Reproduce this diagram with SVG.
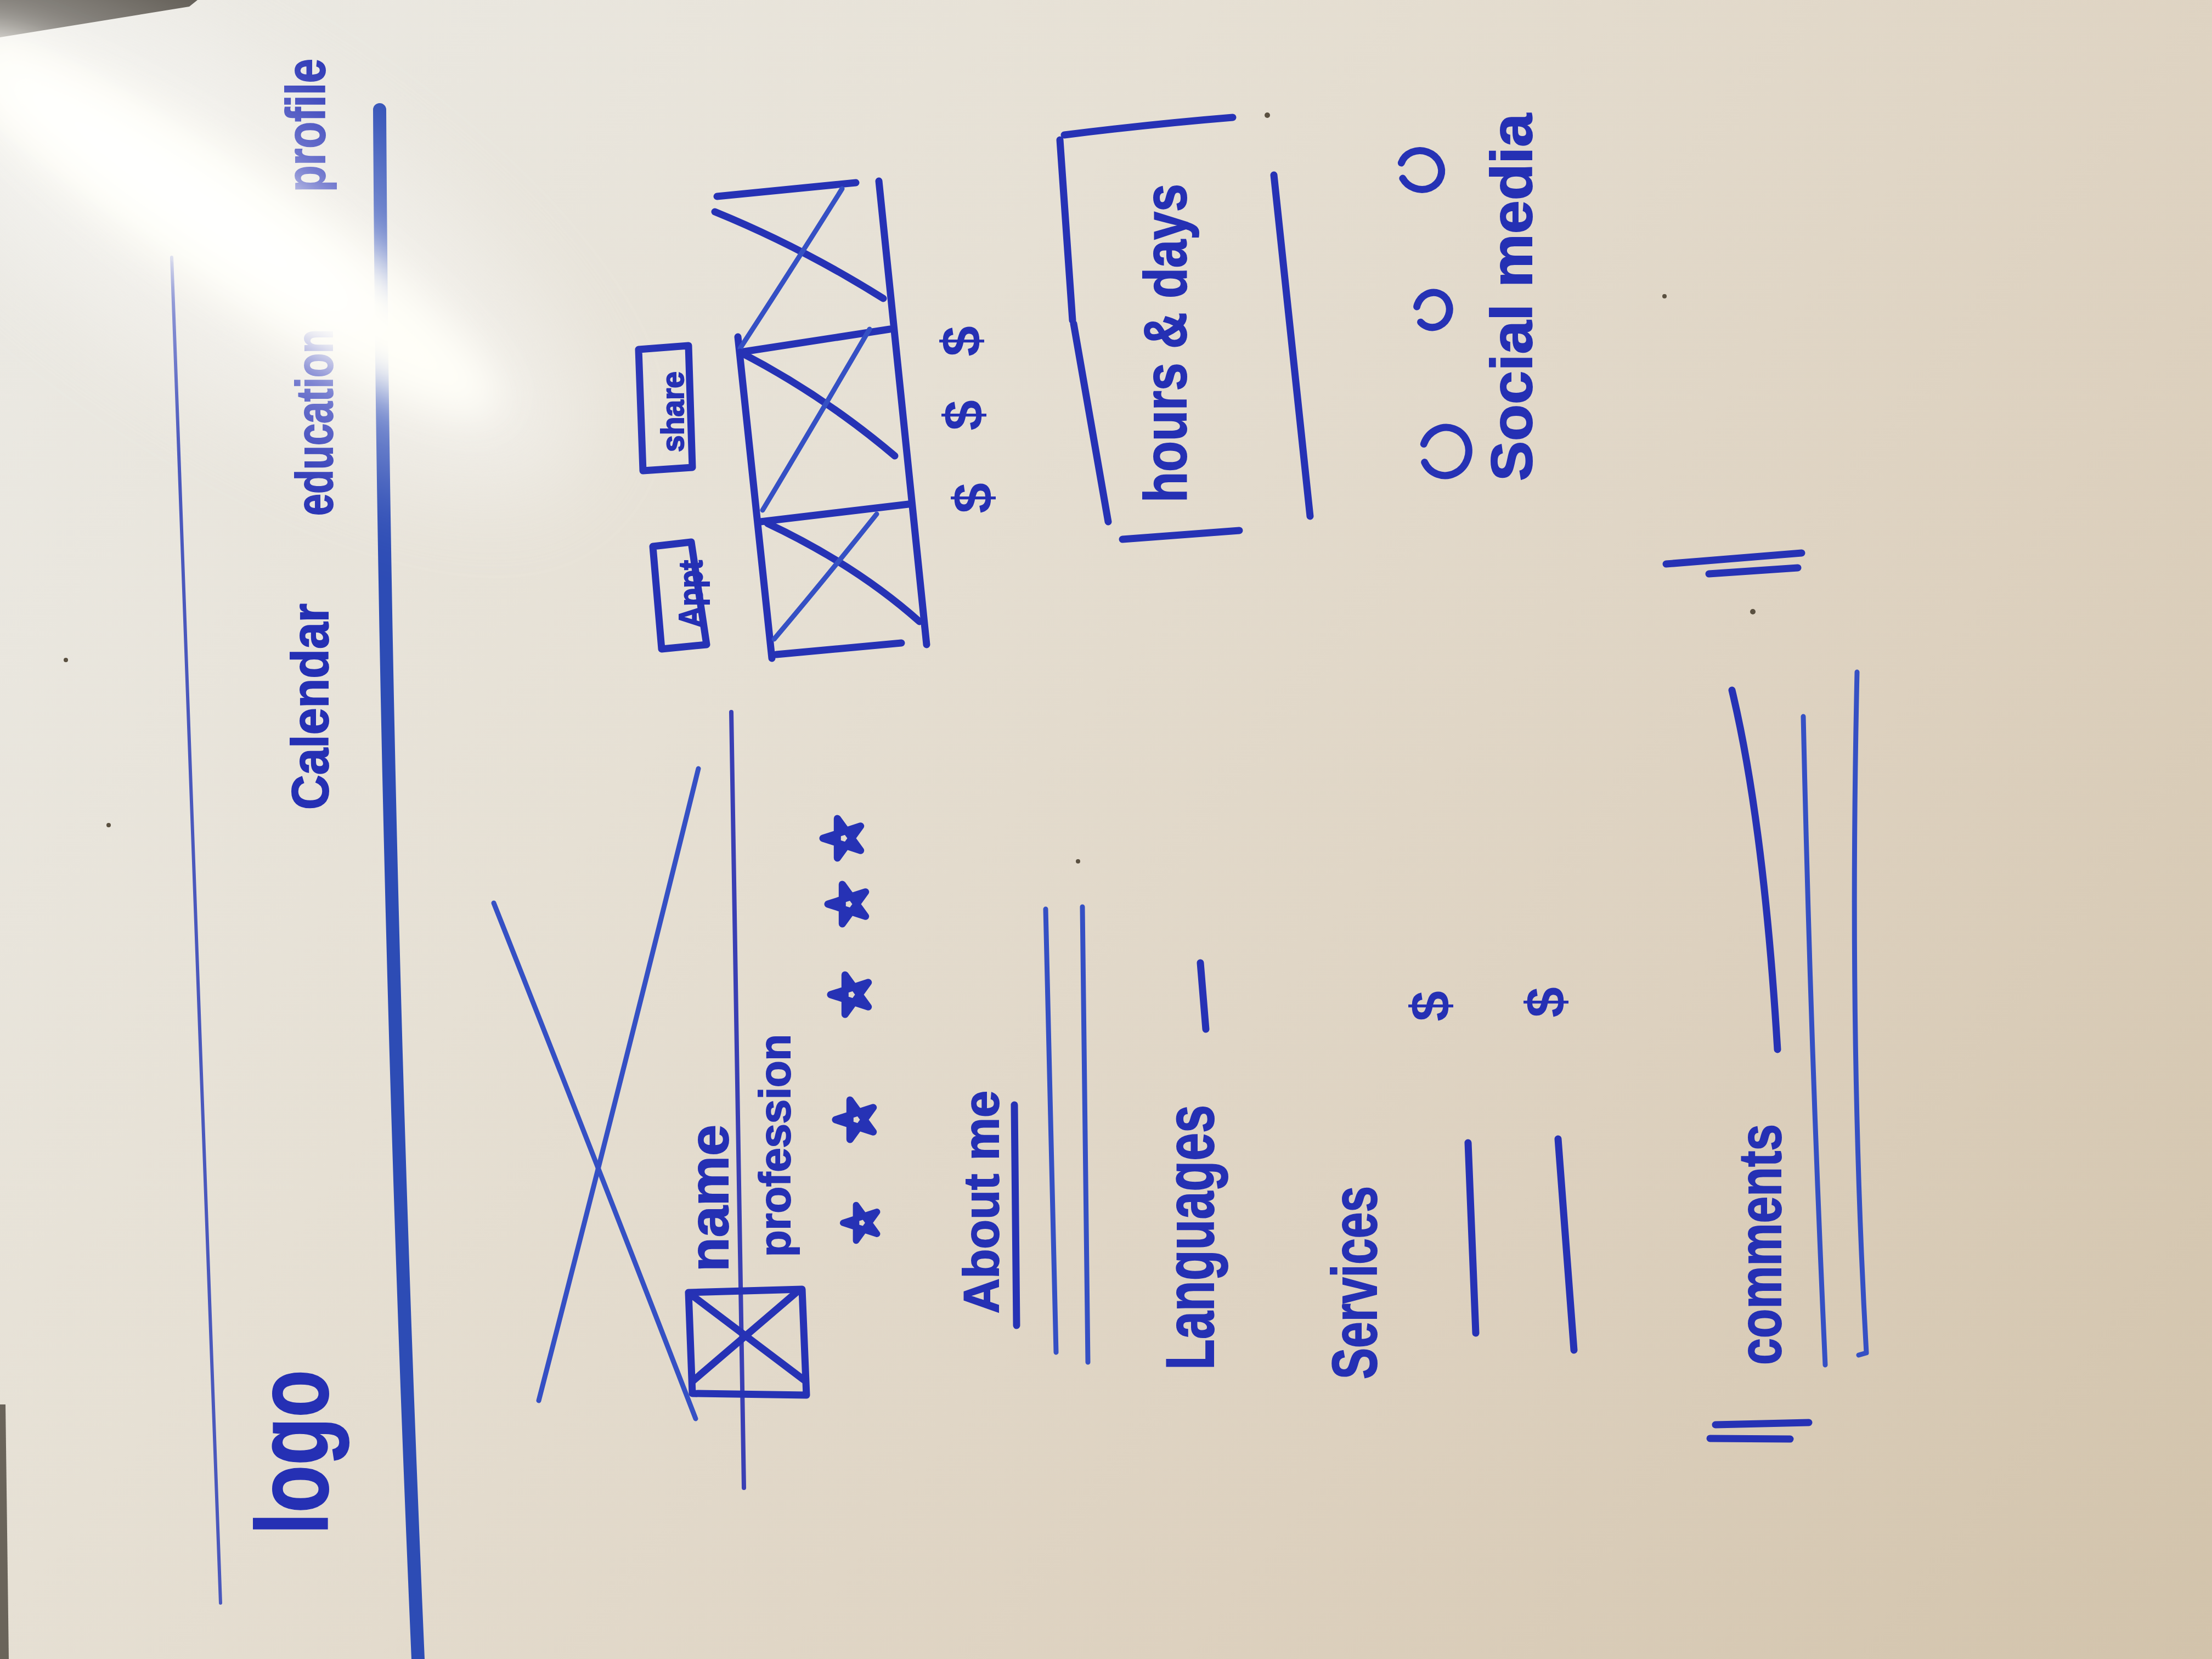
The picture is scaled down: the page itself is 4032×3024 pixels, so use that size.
<svg xmlns="http://www.w3.org/2000/svg" width="4032" height="3024" viewBox="0 0 4032 3024">
  <defs>
    <linearGradient id="board" x1="0" y1="0" x2="4032" y2="3024" gradientUnits="userSpaceOnUse">
      <stop offset="0" stop-color="#ecebe6"/>
      <stop offset="0.35" stop-color="#e6e0d4"/>
      <stop offset="0.7" stop-color="#ddd1bf"/>
      <stop offset="1" stop-color="#d2c3ab"/>
    </linearGradient>
    <filter id="soft" x="-50%" y="-50%" width="200%" height="200%">
      <feGaussianBlur stdDeviation="38"/>
    </filter>
    <filter id="softer" x="-50%" y="-50%" width="200%" height="200%">
      <feGaussianBlur stdDeviation="90"/>
    </filter>
    <path id="star" d="M0,-38 L22.3,30.7 L-36.1,-11.7 L36.1,-11.7 L-22.3,30.7 Z"/>
    <style>
      .ink { fill: none; stroke: #2632b5; stroke-width: 13; stroke-linecap: round; stroke-linejoin: round; }
      .thin { fill: none; stroke: #3550c4; stroke-width: 9; stroke-linecap: round; stroke-linejoin: round; }
      .hair { fill: none; stroke: #4a58bd; stroke-width: 6; stroke-linecap: round; }
      .lbl { font-family: "Liberation Sans", "DejaVu Sans", sans-serif; font-weight: bold; fill: #2530b4; stroke: #2530b4; stroke-width: 2; }
      .sym { font-family: "Liberation Sans", "DejaVu Sans", sans-serif; font-weight: bold; fill: #2530b4; text-anchor: middle; }
    </style>
  </defs>

  <!-- whiteboard surface -->
  <rect x="0" y="0" width="4032" height="3024" fill="url(#board)"/>
  <!-- board edge in the corners -->
  <polygon points="0,0 360,0 345,12 0,68" fill="#58534b"/>
  <polygon points="0,2560 10,2560 16,3024 0,3024" fill="#6a645a"/>

  <!-- header -->
  <g id="header">
    <line class="hair" x1="313" y1="469" x2="402" y2="2922"/>
    <path d="M692,200 Q700,1600 762,3024" fill="none" stroke="#2d4cb5" stroke-width="24" stroke-linecap="round"/>
    <text class="lbl" transform="translate(597,2797) rotate(-90)" font-size="185" textLength="300" lengthAdjust="spacingAndGlyphs" stroke-width="16">logo</text>
    <text class="lbl" transform="translate(598,1476) rotate(-90)" font-size="95" textLength="376" lengthAdjust="spacingAndGlyphs">Calendar</text>
    <text class="lbl" transform="translate(606,940) rotate(-90)" font-size="95" textLength="340" lengthAdjust="spacingAndGlyphs">education</text>
    <text class="lbl" transform="translate(592,350) rotate(-90)" font-size="100" textLength="243" lengthAdjust="spacingAndGlyphs">profile</text>
  </g>

  <!-- profile photo placeholder and identity -->
  <g id="photo">
    <path class="thin" d="M900,1646 Q1080,2100 1268,2586"/>
    <path class="thin" d="M1273,1401 Q1130,1980 982,2553"/>
  </g>
  <line id="divider" x1="1333" y1="1298" x2="1356" y2="2712" stroke="#3a3fb4" stroke-width="8" stroke-linecap="round"/>
  <g id="avatar">
    <path class="ink" stroke-width="10" d="M1255,2356 L1462,2350 L1470,2543 L1262,2540 Z"/>
    <path class="ink" stroke-width="9" d="M1260,2360 L1465,2515 M1456,2352 L1262,2518"/>
  </g>
  <text id="name" class="lbl" transform="translate(1327,2318) rotate(-90)" font-size="100" textLength="268" lengthAdjust="spacingAndGlyphs">name</text>
  <text id="profession" class="lbl" transform="translate(1440,2291) rotate(-90)" font-size="80" textLength="406" lengthAdjust="spacingAndGlyphs">profession</text>

  <!-- rating -->
  <g id="rating" class="ink" stroke-width="10">
    <use href="#star" transform="translate(1571,2229) rotate(-90) scale(0.9)"/>
    <use href="#star" transform="translate(1561,2041) rotate(-90)"/>
    <use href="#star" transform="translate(1552,1813) rotate(-90)"/>
    <use href="#star" transform="translate(1547,1648) rotate(-90)"/>
    <use href="#star" transform="translate(1538,1528) rotate(-90)"/>
  </g>

  <!-- about me -->
  <g id="about">
    <text class="lbl" transform="translate(1820,2394) rotate(-90)" font-size="90" textLength="406" lengthAdjust="spacingAndGlyphs">About me</text>
    <line class="ink" stroke-width="10" x1="1849" y1="2014" x2="1853" y2="2416"/>
    <line class="thin" x1="1906" y1="1657" x2="1925" y2="2465"/>
    <line class="thin" x1="1973" y1="1653" x2="1983" y2="2483"/>
  </g>

  <!-- languages -->
  <g id="languages">
    <text class="lbl" transform="translate(2212,2497) rotate(-90)" font-size="125" textLength="483" lengthAdjust="spacingAndGlyphs">Languages</text>
    <line class="ink" x1="2188" y1="1755" x2="2198" y2="1876"/>
  </g>

  <!-- services -->
  <g id="services">
    <text class="lbl" transform="translate(2509,2514) rotate(-90)" font-size="115" textLength="352" lengthAdjust="spacingAndGlyphs">Services</text>
    <line class="ink" stroke-width="11" x1="2676" y1="2083" x2="2690" y2="2430"/>
    <line class="ink" stroke-width="11" x1="2840" y1="2076" x2="2869" y2="2461"/>
    <text class="sym" transform="translate(2642,1834) rotate(-90)" font-size="100">$</text>
    <text class="sym" transform="translate(2852,1827) rotate(-90)" font-size="100">$</text>
  </g>

  <!-- comments -->
  <g id="comments">
    <text class="lbl" transform="translate(3246,2488) rotate(-90)" font-size="110" textLength="439" lengthAdjust="spacingAndGlyphs">comments</text>
    <path class="ink" stroke-width="12" d="M3157,1258 Q3215,1500 3240,1913"/>
    <path class="thin" stroke-width="10" d="M3287,1306 Q3300,1900 3327,2488"/>
    <path class="thin" stroke-width="10" d="M3385,1225 Q3370,1900 3402,2466 L3388,2470"/>
    <path class="ink" stroke-width="14" d="M3037,1028 L3284,1008 M3115,1046 L3277,1035"/>
    <path class="ink" stroke-width="14" d="M3127,2597 L3297,2593 M3117,2622 L3263,2623"/>
  </g>

  <!-- action buttons -->
  <g id="appt">
    <path class="ink" stroke-width="10" d="M1190,996 L1260,988 L1288,1175 L1206,1183 Z"/>
    <text class="lbl" transform="translate(1280,1144) rotate(-90)" font-size="62" textLength="123" lengthAdjust="spacingAndGlyphs" stroke-width="1">Appt</text>
  </g>
  <g id="share">
    <path class="ink" stroke-width="10" d="M1164,637 L1255,630 L1262,852 L1172,858 Z"/>
    <text class="lbl" transform="translate(1246,824) rotate(-90)" font-size="58" textLength="147" lengthAdjust="spacingAndGlyphs" stroke-width="1">share</text>
  </g>

  <!-- gallery strip -->
  <g id="gallery" class="ink" stroke-width="11">
    <path d="M1307,358 L1560,333"/>
    <path d="M1602,330 L1689,1175"/>
    <path d="M1345,614 L1407,1200"/>
    <path d="M1415,1193 L1643,1172"/>
    <path d="M1349,642 L1622,600"/>
    <path d="M1386,951 L1656,919"/>
    <path d="M1303,386 Q1460,450 1610,544"/>
    <path class="thin" d="M1535,344 Q1450,480 1349,635"/>
    <path d="M1349,642 Q1500,720 1631,831"/>
    <path class="thin" d="M1585,600 Q1480,780 1390,930"/>
    <path d="M1399,954 Q1560,1030 1676,1133"/>
    <path class="thin" d="M1598,937 Q1500,1060 1411,1165"/>
  </g>
  <g id="prices">
    <text class="sym" transform="translate(1787,622) rotate(-90)" font-size="100">$</text>
    <text class="sym" transform="translate(1791,757) rotate(-90)" font-size="100">$</text>
    <text class="sym" transform="translate(1808,908) rotate(-90)" font-size="100">$</text>
  </g>

  <!-- opening hours -->
  <g id="hours">
    <path class="ink" stroke-width="13" d="M1940,246 Q2100,226 2247,214"/>
    <path class="ink" stroke-width="13" d="M1932,255 L1955,584 M1957,590 L2020,951"/>
    <path class="ink" stroke-width="13" d="M2046,983 L2259,967"/>
    <path class="ink" stroke-width="13" d="M2322,319 L2388,941"/>
    <text class="lbl" transform="translate(2162,916) rotate(-90)" font-size="110" textLength="581" lengthAdjust="spacingAndGlyphs">hours &amp; days</text>
  </g>

  <!-- social media -->
  <g id="social">
    <ellipse class="ink" stroke-width="13" cx="2635" cy="823" rx="42" ry="44" stroke-dasharray="235 34" transform="rotate(200 2635 823)"/>
    <ellipse class="ink" stroke-width="12" cx="2612" cy="565" rx="30" ry="32" stroke-dasharray="160 30" transform="rotate(200 2612 565)"/>
    <ellipse class="ink" stroke-width="12" cx="2590" cy="310" rx="38" ry="35" stroke-dasharray="200 32" transform="rotate(200 2590 310)"/>
    <text class="lbl" transform="translate(2792,877) rotate(-90)" font-size="105" textLength="670" lengthAdjust="spacingAndGlyphs">Social media</text>
  </g>

  <!-- specks on the board -->
  <g fill="#5a5040">
    <circle cx="120" cy="1203" r="4"/>
    <circle cx="198" cy="1504" r="4"/>
    <circle cx="3034" cy="540" r="4"/>
    <circle cx="2310" cy="210" r="5"/>
    <circle cx="3195" cy="1115" r="5"/>
    <circle cx="1965" cy="1570" r="4"/>
  </g>

  <!-- light reflection on the glossy surface -->
  <g id="glare">
    <ellipse cx="420" cy="420" rx="760" ry="260" fill="#ffffff" opacity="0.4" filter="url(#softer)" transform="rotate(34 420 420)"/>
    <ellipse cx="410" cy="410" rx="600" ry="120" fill="#fffef8" opacity="1" filter="url(#soft)" transform="rotate(34 410 410)"/>
    <ellipse cx="330" cy="355" rx="420" ry="55" fill="#ffffff" opacity="1" filter="url(#soft)" transform="rotate(34 330 355)"/>
  </g>
</svg>
